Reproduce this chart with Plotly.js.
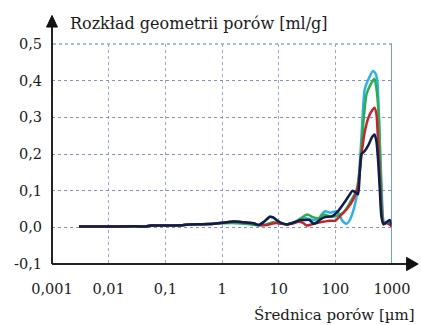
<!DOCTYPE html>
<html><head><meta charset="utf-8">
<script src="https://cdn.plot.ly/plotly-3.0.1.min.js"></script>
<style>html,body{margin:0;padding:0;background:#fff}#chart{width:421px;height:325px}</style>
</head><body><div id="chart"></div>
<script>
// Pore size distribution (µm vs ml/g)
const navyX = [0.003,0.01,0.03,0.045,0.055,0.1,0.2,0.27,0.6,1.2,1.6,2.7,3.6,4.4,5.5,7,8,9.5,12,14,19,24,28,35,41,46,55,66,87,113,148,180,200,230,252,270,290,330,385,440,490,530,570,610,650,710,810,910,1000];
const navyY = [0.002,0.002,0.003,0.002,0.005,0.005,0.006,0.008,0.009,0.014,0.016,0.013,0.011,0.006,0.015,0.029,0.027,0.018,0.01,0.008,0.014,0.02,0.02,0.02,0.01,0.012,0.022,0.028,0.03,0.045,0.07,0.09,0.1,0.095,0.09,0.15,0.2,0.208,0.225,0.245,0.253,0.235,0.18,0.1,0.03,0.008,0.015,0.02,0.003];

const greenX = [0.003,0.01,0.03,0.045,0.055,0.1,0.2,0.27,0.6,1.0,1.5,2.5,4.4,6,8,10,14,19,25,32,40,50,63,80,100,138,170,195,236,270,310,355,420,490,530,585,620,670,720,800,900,1000];
const greenY = [0.002,0.002,0.003,0.002,0.005,0.005,0.006,0.008,0.009,0.011,0.012,0.01,0.006,0.008,0.014,0.012,0.008,0.014,0.025,0.035,0.028,0.025,0.035,0.03,0.03,0.04,0.06,0.076,0.1,0.16,0.28,0.363,0.39,0.405,0.38,0.3,0.18,0.05,0.01,0.012,0.018,0.003];

const cyanX = [0.003,0.01,0.03,0.045,0.055,0.1,0.2,0.27,0.6,1.2,1.6,2.7,3.6,4.4,5.5,7,8,9.5,12,14,19,24,30,40,50,57,66,80,105,118,130,145,160,180,218,252,290,330,400,460,510,550,610,660,700,750,850,1000];
const cyanY = [0.002,0.002,0.003,0.002,0.005,0.005,0.006,0.008,0.009,0.014,0.016,0.013,0.011,0.006,0.015,0.029,0.027,0.018,0.01,0.008,0.014,0.02,0.025,0.02,0.02,0.035,0.044,0.04,0.044,0.035,0.02,0.012,0.01,0.02,0.057,0.11,0.25,0.376,0.41,0.426,0.42,0.4,0.23,0.1,0.02,0.01,0.015,0.003];

const redX = [0.003,0.01,0.03,0.045,0.055,0.1,0.2,0.27,0.6,1.2,1.6,2.7,3.6,4.7,6,7.5,9,11,14,19,22,27,31,38,47,60,81,100,120,160,205,250,290,330,385,450,490,530,570,610,650,700,800,1000];
const redY = [0.002,0.002,0.003,0.002,0.005,0.005,0.006,0.008,0.009,0.014,0.016,0.013,0.011,0.006,0.006,0.01,0.012,0.01,0.008,0.012,0.015,0.012,0.005,0.008,0.012,0.015,0.018,0.018,0.03,0.05,0.075,0.11,0.2,0.26,0.3,0.32,0.326,0.31,0.23,0.14,0.05,0.01,0.012,0.003];

const xTickVals = [0.001,0.01,0.1,1,10,100,1000];
const xTickText = ['0,001','0,01','0,1','1','10','100','1000'];
const yTickVals = [-0.1,0,0.1,0.2,0.3,0.4,0.5];
const yTickText = ['-0,1','0,0','0,1','0,2','0,3','0,4','0,5'];

const serif = 'DejaVu Serif';
function tr(x,y,c){return {x:x,y:y,type:'scatter',mode:'lines',line:{color:c,width:2.5,shape:'spline',smoothing:0.6},hoverinfo:'skip'};}
const data = [tr(cyanX,cyanY,'#2EB2E6'),tr(greenX,greenY,'#2DAE4E'),tr(redX,redY,'#C2252B'),tr(navyX,navyY,'#0E1E4C')];

const layout = {
  width:421,height:325,margin:{l:52,r:29,t:44,b:61},
  paper_bgcolor:'#fff',plot_bgcolor:'#fff',showlegend:false,
  font:{family:serif,size:14.5,color:'#1a1a1a'},
  xaxis:{type:'log',range:[-3,3],tickvals:xTickVals,ticktext:xTickText,ticks:'',ticklabelstandoff:14,
    showgrid:true,gridcolor:'#9aa6d6',griddash:'dot',gridwidth:1,zeroline:false,showline:false,fixedrange:true,
    tickfont:{family:serif,size:14.5,color:'#1a1a1a'}},
  yaxis:{range:[-0.1,0.5],tickvals:yTickVals,ticktext:yTickText,ticks:'',ticklabelstandoff:9,
    showgrid:true,gridcolor:'#8390c0',griddash:'dot',gridwidth:1,zeroline:false,showline:false,fixedrange:true,
    tickfont:{family:serif,size:14.5,color:'#1a1a1a'}},
  shapes:[
    {type:'line',xref:'x',yref:'paper',x0:1000,x1:1000,y0:0,y1:1,line:{color:'#3C7FD8',width:1.5},layer:'above'},
    {type:'line',xref:'paper',yref:'paper',x0:1,x1:0,y0:1,y1:1,line:{color:'#3C7FD8',width:1,dash:'dot'},layer:'below'},
    {type:'line',xref:'paper',yref:'paper',x0:0,x1:0,y0:0,y1:1.08,line:{color:'#222',width:2},layer:'above'},
    {type:'path',xref:'paper',yref:'paper',path:'M -0.016,1.077 L 0.016,1.077 L 0,1.13 Z',fillcolor:'#111',line:{color:'#111',width:1},layer:'above'},
    {type:'line',xref:'paper',yref:'paper',x0:0,x1:1.045,y0:0,y1:0,line:{color:'#222',width:2},layer:'above'},
    {type:'path',xref:'paper',yref:'paper',path:'M 1.043,0.03 L 1.043,-0.03 L 1.077,0 Z',fillcolor:'#111',line:{color:'#111',width:1},layer:'above'}
  ],
  annotations:[
    {text:'Rozkład geometrii porów [ml/g]',xref:'paper',yref:'paper',x:0.047,y:1.095,xanchor:'left',yanchor:'middle',showarrow:false,font:{family:serif,size:16,color:'#1a1a1a'}},
    {text:'Średnica porów [µm]',xref:'paper',yref:'paper',x:1.074,y:-0.23,xanchor:'right',yanchor:'middle',showarrow:false,font:{family:serif,size:15,color:'#1a1a1a'}}
  ]
};
Plotly.newPlot('chart',data,layout,{staticPlot:true,displayModeBar:false});
</script></body></html>
